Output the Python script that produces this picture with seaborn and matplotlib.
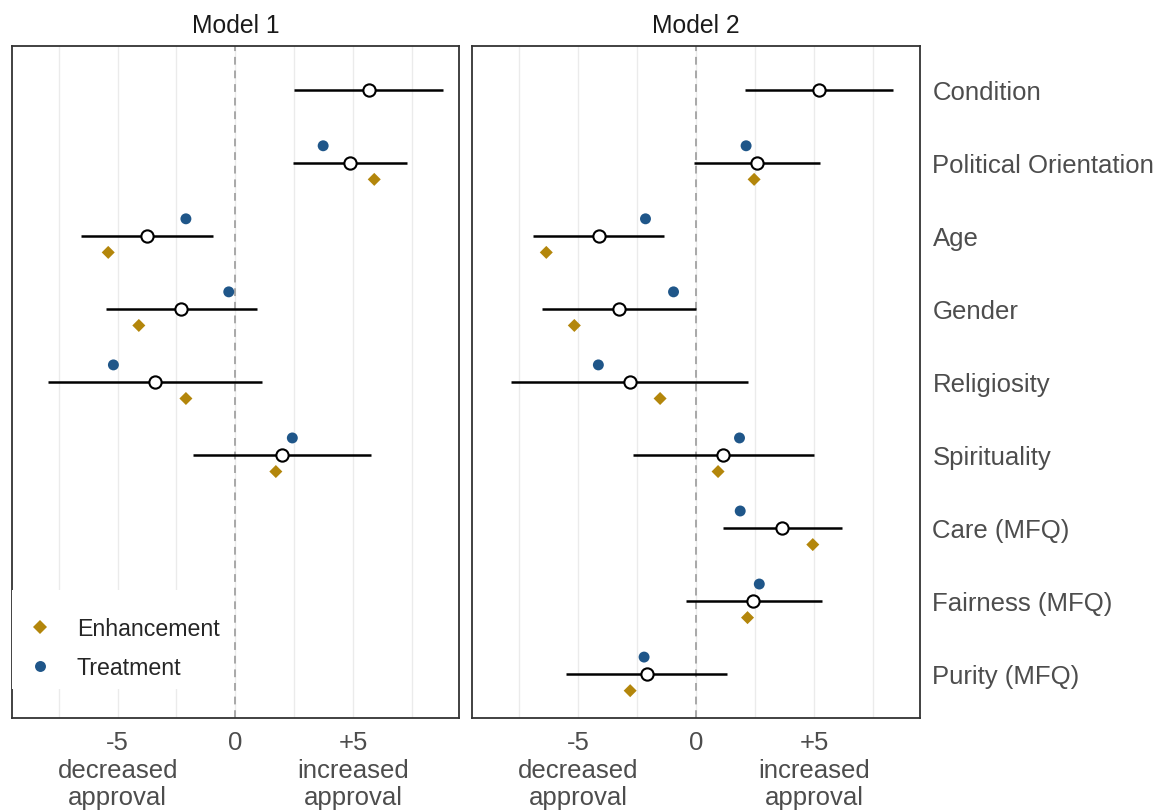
import numpy as np
import pandas as pd
import matplotlib
matplotlib.use("Agg")
import matplotlib.pyplot as plt
import seaborn as sns

# ---------------- data ----------------
predictors = ["Condition", "Political Orientation", "Age", "Gender", "Religiosity",
              "Spirituality", "Care (MFQ)", "Fairness (MFQ)", "Purity (MFQ)"]
nan = np.nan

m1_est = [5.66, 4.87, -3.77, -2.29, -3.42, 1.99]
m1_lo = [2.51, 2.47, -6.55, -5.49, -7.94, -1.81]
m1_hi = [8.84, 7.29, -0.96, 0.93, 1.14, 5.78]
m1_treat = [nan, 3.73, -2.10, -0.28, -5.18, 2.42]
m1_enh = [nan, 5.90, -5.40, -4.10, -2.10, 1.72]

m2_est = [5.21, 2.58, -4.13, -3.26, -2.80, 1.16, 3.64, 2.43, -2.09]
m2_lo = [2.07, -0.11, -6.92, -6.55, -7.84, -2.68, 1.12, -0.44, -5.51]
m2_hi = [8.35, 5.27, -1.36, 0.00, 2.21, 5.00, 6.19, 5.32, 1.30]
m2_treat = [nan, 2.12, -2.15, -0.96, -4.15, 1.84, 1.87, 2.68, -2.21]
m2_enh = [nan, 2.46, -6.36, -5.17, -1.53, 0.93, 4.95, 2.18, -2.80]

models = ["Model 1", "Model 2"]
xtick_vals = [-5, 0, 5]
xtick_labels = ["-5\ndecreased\napproval", "0", "+5\nincreased\napproval"]
group_names = ["Enhancement", "Treatment"]

# ---------------- style ----------------
sns.set_theme(style="white")
plt.rcParams['font.family'] = ['Liberation Sans', 'DejaVu Sans']

GOLD = "#B3860B"
BLUE = "#1F5689"
TXT = "#4D4D4D"
FS = 18.5
FS_TITLE = 17.8
FS_LEG = 16.7
OFF = 0.23

W, H = 1161, 812
fig = plt.figure(figsize=(W / 100, H / 100), dpi=100)
bottom = 1 - 718.7 / H
height = (718.7 - 46.7) / H
ax1 = fig.add_axes([11.7 / W, bottom, (459 - 11.7) / W, height])
ax2 = fig.add_axes([472.3 / W, bottom, (920 - 472.3) / W, height])


def build(est, lo, hi, treat, enh):
    n = len(est)
    est_df = pd.DataFrame({"predictor": predictors[:n], "row": np.arange(n),
                           "est": est, "lo": lo, "hi": hi})
    pts = []
    for i in range(n):
        pts.append({"type": "Treatment", "value": treat[i], "y": i - OFF})
        pts.append({"type": "Enhancement", "value": enh[i], "y": i + OFF})
    pts_df = pd.DataFrame(pts).dropna()
    return est_df, pts_df


data = [build(m1_est, m1_lo, m1_hi, m1_treat, m1_enh),
        build(m2_est, m2_lo, m2_hi, m2_treat, m2_enh)]

for k, (ax, (est_df, pts_df)) in enumerate(zip([ax1, ax2], data)):
    ax.set_axisbelow(True)
    ax.axvline(0, color="#A8A8A8", ls=(0, (4, 3)), lw=1.4, zorder=1.5)
    ax.hlines(est_df["row"], est_df["lo"], est_df["hi"], color="black", lw=1.8, zorder=2)
    sns.scatterplot(data=pts_df, x="value", y="y", hue="type", style="type", size="type",
                    hue_order=group_names, style_order=group_names, size_order=group_names,
                    palette={"Enhancement": GOLD, "Treatment": BLUE},
                    markers={"Enhancement": "D", "Treatment": "o"},
                    sizes={"Enhancement": 44, "Treatment": 62},
                    linewidth=0, ax=ax, zorder=3, legend=(k == 0))
    sns.scatterplot(data=est_df, x="est", y="row", color="white", edgecolor="black",
                    s=78, linewidth=1.5, ax=ax, zorder=4, legend=False)

    ax.set_xlim(-9.5, 9.5)
    ax.set_ylim(len(predictors) - 1 + 0.6, -0.6)
    ax.set_xticks(xtick_vals)
    ax.set_xticklabels(xtick_labels, linespacing=1.18)
    ax.set_xticks([-7.5, -2.5, 2.5, 7.5], minor=True)
    ax.grid(which="both", axis="x", color="#EBEBEB", lw=1.0)
    ax.grid(which="both", axis="y", visible=False)
    ax.set_yticks(range(len(predictors)))
    ax.set_xlabel("")
    ax.set_ylabel("")
    ax.tick_params(axis="x", which="both", length=0, labelsize=FS, labelcolor=TXT, pad=9)
    ax.tick_params(axis="y", which="both", length=0, labelsize=FS, labelcolor=TXT, pad=9)
    for sp in ax.spines.values():
        sp.set_visible(True)
        sp.set_color("#333333")
        sp.set_linewidth(1.3)
    ax.set_title(models[k], fontsize=FS_TITLE, color="#1A1A1A", pad=10)

ax1.set_yticklabels([])
ax2.yaxis.tick_right()
ax2.set_yticklabels(predictors)

leg = ax1.get_legend()
handles = leg.legend_handles
labels = [t.get_text() for t in leg.get_texts()]
leg.remove()
lg = ax1.legend(handles, labels, loc="lower left", bbox_to_anchor=(0, 29 / 672),
                title=" ", title_fontsize=1,
                borderaxespad=0, borderpad=0.4, labelspacing=0.72, handletextpad=0.76,
                handlelength=1.64, fontsize=FS_LEG, frameon=True, fancybox=False,
                facecolor="white", edgecolor="none", framealpha=1)
lg.set_zorder(10)

fig.savefig("out.png", dpi=100)
